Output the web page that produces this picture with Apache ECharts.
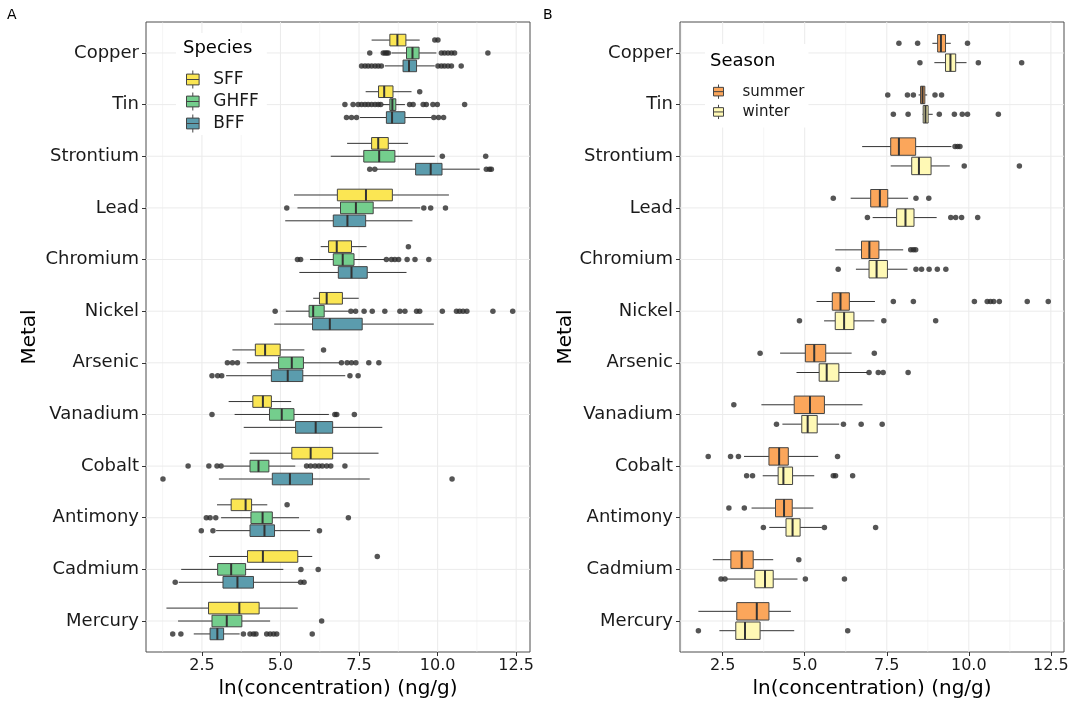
<!DOCTYPE html>
<html>
<head>
<meta charset="utf-8">
<script src="https://cdn.jsdelivr.net/npm/echarts@6/dist/echarts.min.js"></script>
<style>
  html, body { margin: 0; padding: 0; background: #fff; }
  #chart { width: 1074px; height: 704px; }
</style>
</head>
<body>
<div id="chart"></div>
<script>
const metals = ['Copper', 'Tin', 'Strontium', 'Lead', 'Chromium', 'Nickel',
  'Arsenic', 'Vanadium', 'Cobalt', 'Antimony', 'Cadmium', 'Mercury'];

const ticksMajor = [2.5, 5, 7.5, 10, 12.5];
const ticksMinor = [1.25, 3.75, 6.25, 8.75, 11.25];

// [lower whisker, Q1, median, Q3, upper whisker], one row per metal
const sffBox = [
  [7.90, 8.48, 8.72, 8.99, 9.43], [7.71, 8.12, 8.30, 8.58, 9.17],
  [7.12, 7.90, 8.11, 8.43, 9.06], [5.43, 6.81, 7.72, 8.56, 10.36],
  [6.28, 6.53, 6.79, 7.26, 7.74], [6.04, 6.24, 6.47, 6.97, 7.49],
  [3.47, 4.20, 4.51, 4.99, 5.76], [3.35, 4.12, 4.44, 4.71, 5.34],
  [4.02, 5.36, 5.96, 6.66, 8.12], [2.98, 3.43, 3.89, 4.08, 4.58],
  [2.73, 3.95, 4.44, 5.55, 6.01], [1.37, 2.71, 3.69, 4.32, 5.55]
];
const sffOut = [[9.91, 10.01], [9.43], [], [], [9.07], [], [6.37], [], [], [5.21], [8.08], []];

const ghffBox = [
  [8.53, 9.01, 9.20, 9.41, 9.96], [8.25, 8.48, 8.56, 8.67, 8.96],
  [6.60, 7.65, 8.14, 8.64, 9.91], [5.54, 6.91, 7.40, 7.95, 9.45],
  [5.94, 6.68, 6.98, 7.34, 8.32], [5.17, 5.91, 6.04, 6.39, 7.16],
  [3.93, 4.94, 5.36, 5.73, 6.89], [3.54, 4.65, 5.04, 5.43, 6.54],
  [3.19, 4.03, 4.30, 4.63, 5.47], [3.11, 4.06, 4.43, 4.74, 5.59],
  [1.84, 3.00, 3.43, 3.89, 5.09], [1.74, 2.82, 3.29, 3.77, 4.67]
];
const ghffOut = [
  [7.84, 8.27, 8.33, 8.38, 8.43, 10.12, 10.22, 10.33, 10.44, 10.54, 11.60],
  [7.05, 7.31, 7.47, 7.58, 7.69, 7.79, 7.90, 8.01, 8.11, 8.19, 9.11, 9.22, 9.54, 9.64, 9.85, 9.99, 10.86],
  [10.15, 11.53],
  [5.20, 9.56, 9.78, 10.25],
  [5.54, 5.64, 8.37, 8.53, 8.64, 8.76, 9.03, 9.28, 9.72],
  [4.83, 7.24, 7.39, 7.66, 7.92, 8.32, 8.80, 8.96, 9.33, 9.43, 10.15, 10.60, 10.70, 10.81, 10.93, 11.76, 12.39],
  [3.31, 3.47, 3.63, 6.94, 7.12, 7.26, 7.40, 7.81, 8.13],
  [2.82, 6.73, 6.79, 7.35],
  [2.06, 2.72, 2.98, 3.11, 5.83, 5.96, 6.10, 6.22, 6.33, 6.47, 6.60, 7.05],
  [2.64, 2.76, 2.94, 7.16],
  [5.65, 6.20],
  [6.31]
];

const bffBox = [
  [8.32, 8.90, 9.09, 9.33, 9.91], [7.53, 8.37, 8.55, 8.96, 9.80],
  [8.06, 9.30, 9.78, 10.14, 11.34], [5.15, 6.68, 7.13, 7.71, 9.20],
  [5.60, 6.84, 7.26, 7.76, 9.01], [4.80, 6.02, 6.57, 7.60, 9.88],
  [3.27, 4.71, 5.23, 5.71, 7.06], [3.83, 5.48, 6.12, 6.66, 8.24],
  [3.04, 4.74, 5.30, 6.02, 7.84], [2.95, 4.03, 4.49, 4.81, 5.94],
  [1.76, 3.17, 3.63, 4.14, 5.57], [2.24, 2.76, 2.99, 3.19, 3.70]
];
const bffOut = [
  [7.58, 7.69, 7.79, 7.90, 8.01, 8.11, 8.21, 10.01, 10.12, 10.22, 10.33, 10.44, 10.75],
  [7.10, 7.26, 7.42, 9.88, 10.03, 10.19],
  [7.84, 8.00, 11.55, 11.65, 11.71],
  [], [], [],
  [2.82, 3.00, 3.13, 7.21, 7.47],
  [],
  [1.26, 10.46],
  [2.48, 2.85, 6.24],
  [1.65, 5.64, 5.75],
  [1.57, 1.83, 3.82, 4.03, 4.14, 4.22, 4.56, 4.67, 4.78, 4.88, 6.01]
];

const summerBox = [
  [8.89, 9.05, 9.15, 9.29, 9.45], [8.47, 8.53, 8.59, 8.66, 8.73],
  [6.75, 7.62, 7.87, 8.38, 9.47], [6.40, 7.01, 7.29, 7.53, 8.15],
  [5.93, 6.73, 6.97, 7.26, 8.00], [5.36, 5.84, 6.09, 6.36, 7.14],
  [4.25, 5.02, 5.29, 5.64, 6.43], [3.68, 4.68, 5.16, 5.60, 6.76],
  [3.15, 3.91, 4.22, 4.50, 5.41], [3.38, 4.11, 4.37, 4.62, 5.26],
  [2.20, 2.75, 3.08, 3.43, 4.04], [1.76, 2.93, 3.54, 3.91, 4.58]
];
const summerOut = [
  [7.87, 8.44, 9.96], [7.53, 8.13, 8.31, 8.97, 9.17], [9.58, 9.66, 9.73],
  [5.87, 8.39, 8.78], [8.23, 8.31, 8.38],
  [7.70, 8.31, 10.17, 10.56, 10.66, 10.76, 10.93, 11.78, 12.42],
  [3.64, 7.12], [2.84], [2.06, 2.74, 2.98, 6.00], [2.69, 3.16], [4.82], []
];

const winterBox = [
  [8.95, 9.29, 9.44, 9.60, 9.93], [8.59, 8.61, 8.68, 8.76, 8.90],
  [7.62, 8.26, 8.48, 8.85, 9.42], [7.07, 7.80, 8.07, 8.33, 9.02],
  [6.56, 6.96, 7.19, 7.52, 8.13], [5.59, 5.93, 6.20, 6.50, 7.12],
  [4.75, 5.44, 5.67, 6.04, 6.91], [4.32, 4.91, 5.09, 5.38, 6.05],
  [3.72, 4.19, 4.35, 4.63, 5.29], [3.92, 4.43, 4.63, 4.86, 5.52],
  [2.62, 3.48, 3.79, 4.04, 4.78], [2.40, 2.90, 3.18, 3.64, 4.68]
];
const winterOut = [
  [8.51, 10.29, 11.61], [7.70, 8.15, 9.10, 9.56, 9.80, 9.96, 10.90], [9.86, 11.54],
  [6.91, 9.45, 9.60, 9.78, 10.27], [6.02, 8.39, 8.56, 8.79, 9.04, 9.30],
  [4.84, 7.41, 8.99], [6.96, 7.24, 7.39, 8.15], [4.14, 6.18, 6.72, 7.36],
  [3.23, 3.41, 5.87, 5.94, 6.46], [3.74, 5.60, 7.16], [2.45, 2.57, 5.02, 6.21], [1.76, 6.31]
];

const FONT = 'DejaVu Sans';
const INK = '#1a1a1a';
const keyIcon = 'path://M8,0L8,4M1,4L15,4L15,16L1,16ZM1,10L15,10M8,16L8,20';
const metalIdx = metals.map((m, i) => i);

// draws one box + whiskers; y is the metal index shifted by the dodge offset
function boxItem(offset, half, fill) {
  return function (params, api) {
    const y = api.value(0) + offset;
    const lo = api.coord([api.value(1), y]);
    const q1 = api.coord([api.value(2), y]);
    const md = api.coord([api.value(3), y]);
    const q3 = api.coord([api.value(4), y]);
    const hi = api.coord([api.value(5), y]);
    const h = Math.abs(api.size([0, half * 2])[1]);
    const line = { stroke: '#333', lineWidth: 1 };
    return {
      type: 'group',
      children: [
        { type: 'line', shape: { x1: lo[0], y1: lo[1], x2: q1[0], y2: q1[1] }, style: line },
        { type: 'line', shape: { x1: q3[0], y1: q3[1], x2: hi[0], y2: hi[1] }, style: line },
        { type: 'rect', shape: { x: q1[0], y: q1[1] - h / 2, width: q3[0] - q1[0], height: h },
          style: { fill: fill, stroke: '#444', lineWidth: 1 } },
        { type: 'line', shape: { x1: md[0], y1: md[1] - h / 2, x2: md[0], y2: md[1] + h / 2 },
          style: { stroke: '#333', lineWidth: 2 } }
      ]
    };
  };
}

function gridSeries(gi) {
  const v = ticksMajor.map(t => [t, 1]).concat(ticksMinor.map(t => [t, 0.5]));
  return [
    {
      type: 'custom', xAxisIndex: gi, yAxisIndex: gi, z: 1, silent: true,
      encode: { x: 0 },
      data: v,
      renderItem: (params, api) => {
        const cs = params.coordSys;
        const x = api.coord([api.value(0), 5])[0];
        return { type: 'line', shape: { x1: x, y1: cs.y, x2: x, y2: cs.y + cs.height },
          style: { stroke: '#ebebeb', lineWidth: api.value(1) } };
      }
    },
    {
      type: 'custom', xAxisIndex: gi, yAxisIndex: gi, z: 1, silent: true,
      data: metalIdx.map(i => [5, i]),
      renderItem: (params, api) => {
        const y = api.coord([5, api.value(1)])[1];
        const cs = params.coordSys;
        return { type: 'line', shape: { x1: cs.x, y1: y, x2: cs.x + cs.width, y2: y },
          style: { stroke: '#ebebeb', lineWidth: 1 } };
      }
    }
  ];
}

function group(name, color, boxes, outs, offset, half, gi) {
  return [
    {
      name: name, type: 'custom', xAxisIndex: gi, yAxisIndex: gi, z: 3,
      itemStyle: { color: color, borderColor: '#444', borderWidth: 1 },
      encode: { x: [1, 2, 3, 4, 5], y: 0 },
      data: boxes.map((b, i) => [i].concat(b)),
      renderItem: boxItem(offset, half, color)
    },
    {
      name: name + ' outliers', type: 'scatter', xAxisIndex: gi, yAxisIndex: gi, z: 4,
      symbolSize: 5.5, itemStyle: { color: '#2b2b2b' },
      data: outs.flatMap((vals, i) => vals.map(v => [v, i + offset]))
    }
  ];
}

function xAxis(gi, min, max) {
  return {
    type: 'value', gridIndex: gi, min: min, max: max, position: 'bottom',
    axisLine: { show: false, onZero: false },
    splitLine: { show: false },
    axisTick: { show: true, length: 4, customValues: ticksMajor, lineStyle: { color: '#333' } },
    axisLabel: { customValues: ticksMajor, formatter: v => v.toFixed(1),
      fontSize: 16, color: INK, margin: 6, fontFamily: FONT },
    name: 'ln(concentration) (ng/g)', nameLocation: 'middle', nameGap: 25,
    nameTextStyle: { fontSize: 20, color: '#000', fontFamily: FONT }
  };
}

// metal axis: value scale padded by 0.6 like ggplot's discrete expansion
function metalAxis(gi, gap) {
  return {
    type: 'value', gridIndex: gi, min: -0.6, max: 11.6, inverse: true, position: 'left',
    axisLine: { show: false, onZero: false },
    splitLine: { show: false },
    axisTick: { show: true, length: 4, customValues: metalIdx, lineStyle: { color: '#333' } },
    axisLabel: { customValues: metalIdx, formatter: v => metals[Math.round(v)],
      fontSize: 18, color: INK, margin: 7, fontFamily: FONT },
    name: 'Metal', nameLocation: 'middle', nameRotate: 90, nameGap: gap,
    nameTextStyle: { fontSize: 20, color: '#000', fontFamily: FONT }
  };
}

const chart = echarts.init(document.getElementById('chart'));
chart.setOption({
  animation: false,
  backgroundColor: '#fff',
  textStyle: { fontFamily: FONT },
  title: [
    { text: 'A', left: 7, top: 8, padding: 0, textStyle: { fontSize: 14, fontWeight: 'normal', color: '#000' } },
    { text: 'B', left: 543, top: 8, padding: 0, textStyle: { fontSize: 14, fontWeight: 'normal', color: '#000' } },
    { text: 'Species', left: 183, top: 39, padding: 0, textStyle: { fontSize: 18, fontWeight: 'normal', color: '#000' } },
    { text: 'Season', left: 710, top: 52, padding: 0, textStyle: { fontSize: 18, fontWeight: 'normal', color: '#000' } }
  ],
  grid: [
    { left: 146, right: 544, top: 22, bottom: 52, show: true, borderColor: '#4d4d4d', borderWidth: 1,
      backgroundColor: '#fff', outerBoundsMode: 'none' },
    { left: 680, right: 10, top: 22, bottom: 52, show: true, borderColor: '#4d4d4d', borderWidth: 1,
      backgroundColor: '#fff', outerBoundsMode: 'none' }
  ],
  xAxis: [xAxis(0, 0.72, 12.94), xAxis(1, 1.2, 12.9)],
  yAxis: [metalAxis(0, 106), metalAxis(1, 102)],
  legend: [
    {
      data: ['SFF', 'GHFF', 'BFF'], orient: 'vertical', left: 176, top: 33,
      padding: [37, 8, 2, 10], itemGap: 3, itemWidth: 17, itemHeight: 18,
      icon: keyIcon, backgroundColor: '#fff', selectedMode: false,
      itemStyle: { borderColor: '#444', borderWidth: 1 },
      textStyle: { fontSize: 17, color: INK, fontFamily: FONT, padding: [0, 0, 0, 7] }
    },
    {
      data: ['summer', 'winter'], orient: 'vertical', left: 705, top: 44,
      padding: [40, 4, 8, 8], itemGap: 5, itemWidth: 10, itemHeight: 17,
      icon: keyIcon, backgroundColor: '#fff', selectedMode: false,
      itemStyle: { borderColor: '#444', borderWidth: 1 },
      textStyle: { fontSize: 15, color: INK, fontFamily: FONT, padding: [0, 0, 0, 14] }
    }
  ],
  series: [
    ...gridSeries(0),
    ...gridSeries(1),
    ...group('SFF', '#FBE653', sffBox, sffOut, -0.25, 0.1125, 0),
    ...group('GHFF', '#74CE8D', ghffBox, ghffOut, 0, 0.1125, 0),
    ...group('BFF', '#5B9CAD', bffBox, bffOut, 0.25, 0.1125, 0),
    ...group('summer', '#FBA65B', summerBox, summerOut, -0.1875, 0.16875, 1),
    ...group('winter', '#FFF9B5', winterBox, winterOut, 0.1875, 0.16875, 1)
  ]
});
</script>
</body>
</html>
